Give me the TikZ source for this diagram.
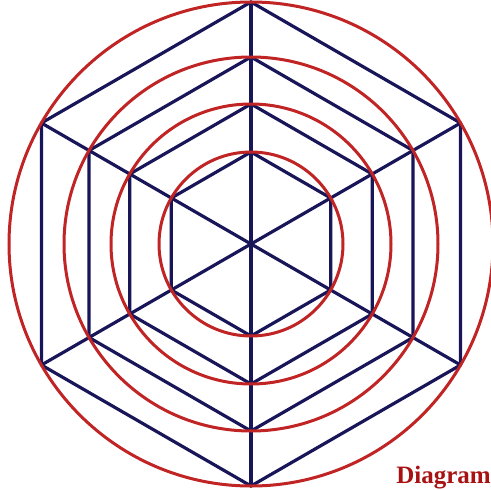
\documentclass[tikz,border=0pt]{standalone}
\usepackage{fontspec}
\setmainfont{Liberation Serif}
\usetikzlibrary{calc}
\definecolor{ringred}{RGB}{192,36,36}
\definecolor{hexnavy}{RGB}{24,22,88}
\definecolor{labelred}{RGB}{168,18,18}
\begin{document}
\begin{tikzpicture}[x=1pt,y=-1pt,
  ring/.style={draw=ringred,line width=3pt},
  hexline/.style={draw=hexnavy,line width=3.2pt,line join=round,line cap=round}]
\useasboundingbox (0,0) rectangle (491,490);
\coordinate (O) at (251,244);
% hexagons and spokes
\foreach \r in {242,187,140,92}{
  \draw[hexline] ($(O)+(90:\r)$) \foreach \a in {150,210,270,330,30}{ -- ($(O)+(\a:\r)$)} -- cycle;
}
\foreach \a in {30,90,150}{
  \draw[hexline] ($(O)+(\a:242)$) -- ($(O)+(\a+180:242)$);
}
% circles
\foreach \r in {242,187,140,92}{
  \draw[ring] (O) circle (\r);
}
\node[anchor=base east,inner sep=0pt,text=labelred,font=\fontsize{25}{29}\selectfont\bfseries] (lbl) at (491,483) {Diagram};
\end{tikzpicture}
\end{document}
